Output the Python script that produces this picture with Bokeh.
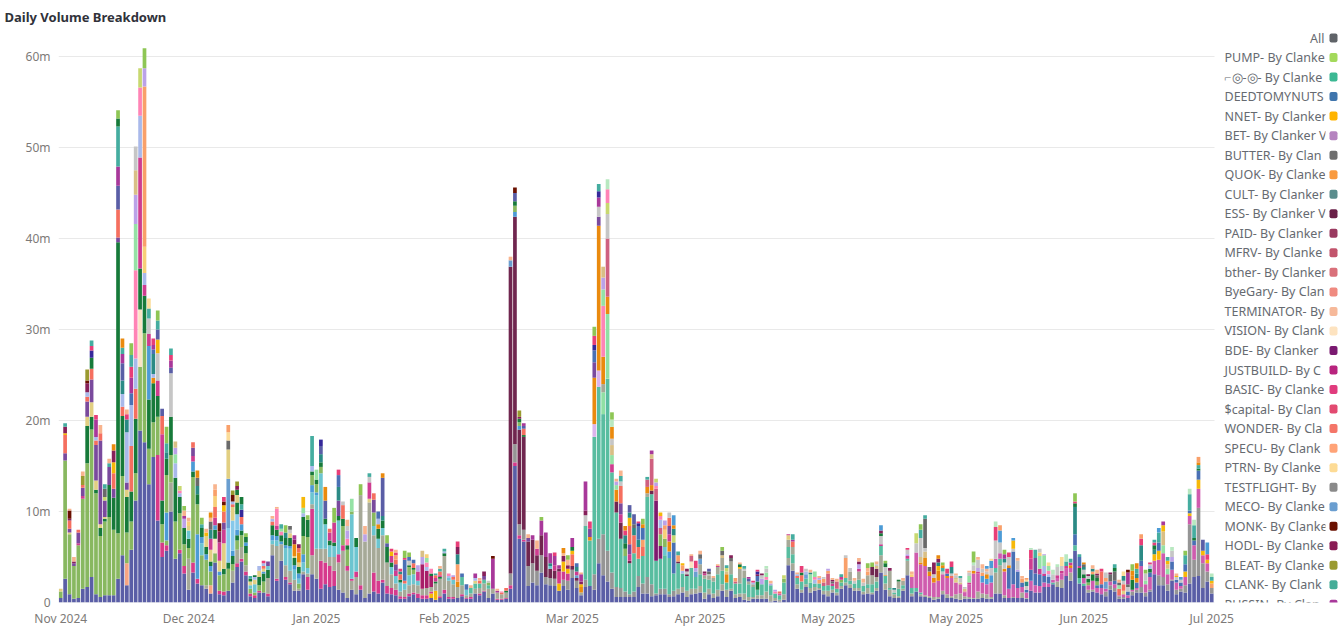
from bokeh.plotting import figure
from bokeh.embed import file_html
from bokeh.resources import INLINE
from bokeh.models import Range1d, FixedTicker, Title
from bokeh.core.properties import value

D = dict
TITLE = "Daily Volume Breakdown"
FONT = "Noto Sans"
Y_TICKS = [0, 10, 20, 30, 40, 50, 60]
Y_LABELS = ["0", "10m", "20m", "30m", "40m", "50m", "60m"]
X_TICKS = [0, 29, 58, 87, 116, 145, 174, 203, 232, 261]
X_LABELS = ["Nov 2024", "Dec 2024", "Jan 2025", "Feb 2025", "Mar 2025", "Apr 2025", "May 2025", "May 2025", "Jun 2025", "Jul 2025"]

LEGEND_NAMES = ["PUMP- By Clanke", "⌐◎-◎- By Clanke", "DEEDTOMYNUTS", "NNET- By Clanker", "BET- By Clanker V", "BUTTER- By Clan",
    "QUOK- By Clanke", "CULT- By Clanker", "ESS- By Clanker V", "PAID- By Clanker", "MFRV- By Clanke", "bther- By Clanker",
    "ByeGary- By Clan", "TERMINATOR- By", "VISION- By Clank", "BDE- By Clanker", "JUSTBUILD- By C", "BASIC- By Clanke",
    "$capital- By Clan", "WONDER- By Cla", "SPECU- By Clank", "PTRN- By Clanke", "TESTFLIGHT- By", "MECO- By Clanke",
    "MONK- By Clanke", "HODL- By Clanke", "BLEAT- By Clanke", "CLANK- By Clank", "RUSSIN- By Clan"]
LEGEND_COLORS = ["#a3d95b", "#3bb893", "#3f75ad", "#ffb400", "#b583bf", "#6f6f6f", "#f99a3e", "#5a8c8c", "#6a2048", "#9a3a60",
    "#c2546c", "#d9707a", "#ef8a80", "#f6b99a", "#fde3c0", "#7a1a70", "#b8237e", "#e03b7d", "#e24a70", "#f47568", "#ffa377",
    "#fddb95", "#8a8a8a", "#6a9ed0", "#6a1000", "#8a1c55", "#9a9a30", "#45ad98", "#a8389a"]

# stack order, bottom to top
SERIES = dict(IND="#5a5ea6", CRML="#d83a88", PCHL="#f6a583", GOLDL="#f6b808", SAGE="#a6a998", CR2="#d63a8c", GREYS="#a6a998", GREY="#959595",
    GRN="#88b860", JUST="#a81e68", TEAL="#58bda0", LAV0="#dcb4ec", MINT0="#90e0a4", SG2="#a6a998", MAGP="#cf5cae", BLU0="#4a70b4",
    BDE="#7e1a6e", VAN="#fbe3c4", ESS="#70264f", DG="#177a3a", CYAN="#6cc5d0", SKY="#4c9bd6", LSKY="#86c8ea", MECO="#6a9ed0",
    GRN2="#88b860", DG2="#177a3a", TAN="#e2cf82", ORNG="#ea8a0e", MFRV="#cf6080", CRIM="#ce3d90", PURP="#7a4a9d", SALM="#f56f5f",
    CORN="#a9b9ea", PINK="#ff84b5", MINT="#95e2a5", PTRN="#f8cf78", SPEC="#f9a06a", LAV="#bba2e8", SAND="#d9bf86", LGRY="#c6c6c6",
    LIME="#c8d870", GOLD="#f6b808", TEALD="#2b8a85", BLUE="#4a70b4", DGRY="#6a6a6a", DG3="#177a3a", IND2="#5a5ea6", TOPM="#86205a",
    PURP2="#a8389a", DRED="#6a1000", OLIVE="#9a9a30", NAVY="#35289a", HOT="#e83e78", TEALT="#45ada0", DG4="#177a3a", PEACH="#f8b48e",
    ORN2="#ea8a0e", PNK2="#ff84b5", MINT2="#b8e8c0", SK2="#4c9bd6", PTR2="#fbdc98", SP2="#f9a06a", GRN3="#8ec655")

NOV_BARS = [
D(IND=.5,GRN=.7,TAN=.3),
D(IND=2.6,GRN=13,GOLD=.2,PURP=.8,SALM=2,TOPM=.7,TEALT=.4),
D(IND=.9,GRN=6.6,PURP=.4,TAN=.2,SALM=.9,TOPM=.2,DRED=.9,PEACH=.2),
D(IND=.4,GRN=3.6,PURP=.3,TOPM=.2,PEACH=.5),
D(IND=.5,GRN=5.8,PURP=1.2,CRIM=.2,SALM=.3),
D(IND=1.5,GRN=9.9,PURP=.9,OLIVE=1,SALM=.3,PEACH=.5,CRIM=.3),
D(IND=1.7,GRN=13.6,DG=4.1,TAN=1,PURP=1.7,SALM=.5,OLIVE=1.2,TOPM=1,DRED=.3,CORN=.5),
D(IND=2.8,GRN=16.2,DG=1.4,TAN=1.6,PURP=2.5,SALM=1.2,DG3=1.2,NAVY=.8,HOT=.5,TEALT=.6),
D(IND=.9,GRN=11.1,DG=.4,TAN=1,PURP=3.9,PURP2=1.9,SALM=.5,CORN=.4,HOT=.5),
D(IND=.6,GRN=6.7,DG=.9,TAN=.4,PURP=9.2,PEACH=.9,SALM=.8),
D(IND=.8,GRN=8.1,DG=.3,TAN=.2,PURP=1.8,DGRY=.9,TEALT=.5,LIME=.4),
D(IND=.8,GRN=8.6,DG=3.5,PURP=2,PEACH=.5,TEALT=.4),
D(IND=.8,GRN=7.2,DG=3.5,PURP=1,SALM=1.7,GOLD=1.2,ORN2=.7,TOPM=1.3),
D(IND=2.6,GRN=5,DG=32,PURP=.5,SALM=3.1,IND2=2.6,PURP2=2.1,TEALT=4.4,DG4=.9,GRN3=.9),
D(IND=5.2,GRN=8.7,DG=6.6,CORN=1.4,SALM=1,TEALD=1.5,IND2=1.9,ORN2=1,PURP2=1,TEALT=.7),
D(IND=1.9,PCHL=2.4,GRN=3.4,DG=3.9,TAN=.8,CORN=5.5,PURP=.8,TEALD=1.4,HOT=.6,PEACH=.5),
D(IND=5.8,GRN=3.1,DG=3.3,SALM=5,CORN=4.5,PURP2=1.7,TEALT=1.3,BLUE=1.3,HOT=1.2,GRN3=1.3),
D(IND=11.2,GRN=3,DG=6,SALM=3.3,CORN=3.3,PINK=9.7,MINT=5.1,LAV=3.2,SAND=2.7,LGRY=2.6),
D(IND=18.9,GRN=7,DG=4.5,VAN=6.3,CRIM=12.2,CORN=4.6,PINK=3.1,LIME=2.1),
D(IND=17.6,GRN=12,DG=4.1,CRIM=1.2,CORN=1.3,PTRN=2.9,SPEC=17.6,LAV=2,GRN3=2.2),
D(IND=13,GRN=3.9,DG=5.4,SKY=5.9,CRIM=1.3,LGRY=1.7,TEALT=1.1,PTR2=1.1),
D(IND=16,GRN=3.8,DG=4.3,CORN=.4,ORNG=.6,TEALD=2.2,BLUE=.5,PURP2=.5,HOT=.7),
D(IND=9,CRML=7.2,GRN=4.2,DG=2.3,CRIM=1.7,LGRY=3,GOLD=1.5,IND2=1.1,TEALT=1,GRN3=1.1),
D(IND=5,CRML=1.6,GRN=2,DG=2.6,CRIM=7.3,SALM=2,IND2=.8),
D(IND=5.7,CRML=.6,GRN=.5,SKY=3.1,GRN2=4.1,DG2=1.8,TEALD=.7,TEALT=1,GRN3=1.8),
D(IND=10,SAGE=3.2,GRN=3,DG=4.2,LGRY=4.8,PURP2=.8,TEALT=.7,IND2=.6,HOT=.6),
D(IND=4.8,GRN=4.1,DG=4.8,CORN=1.6,MINT=1,LAV=.7,SAND=.7),
D(IND=5.4,CRML=.4,GRN=4,DG=1.8,CORN=.4,PINK=.3,LIME=.5),
D(IND=3.2,CRML=.8,GRN=2.4,DG=1.8,PURP2=.3,LAV=1,PEACH=.6,GRN3=.5),
D(IND=1.4,SAGE=3.4,GRN=1.2,DG=1,CYAN=.9,TAN=.5,PTRN=.5,PEACH=.4),
]
DEC_BARS = [
D(IND=3.3,CRML=1.1,GRN=9.4,DG=.6,SKY=1.1,PURP=.9,SALM=.6,CRIM=.6),
D(IND=2.1,CRML=.5,SKY=4.9,GRN2=3.3,DG2=1.1,TEALD=.9,DGRY=.9,ORN2=.8),
D(IND=1.9,GRN=3.3,CYAN=1.3,SKY=.7,DG2=1,TEALT=.4,GRN3=.7),
D(IND=1.5,SAGE=.4,GRN=2.8,SKY=.6,DG2=.8,TAN=1.2,GOLD=.4,PEACH=.4),
D(IND=1,PCHL=.9,GRN=1.5,SKY=.6,DG2=.5,TAN=1.3,CRIM=1.2,TEALD=1,DGRY=.9,ORN2=.6,PEACH=.4),
D(IND=4.4,GRN=1,DG=1,VAN=1.6,SKY=.5,CRIM=.8,SALM=1.2,PTRN=1.2,SPEC=.7,PEACH=.6),
D(IND=.9,CRML=.4,GRN=1.7,SKY=.4,TAN=1.2,CRIM=2,TOPM=1.2,DRED=.9),
D(IND=.8,CRML=.4,GRN=1.9,DG=.6,TAN=2.8,CRIM=1.5,PURP=.8,SALM=1.2,GOLD=.7,DRED=.4,HOT=.5),
D(IND=1.3,GRN=2.4,DG=.7,TAN=3.2,LSKY=3.8,MECO=5.4,DGRY=1,PTR2=.9,SP2=.8),
D(IND=2.2,SAGE=1.3,GRN=.7,DG=.9,TAN=1.5,SKY=.6,LSKY=3.3,SALM=.3,CORN=.3,DRED=.7,OLIVE=.5),
D(IND=3.9,CRML=.4,SAGE=1.5,GRN=1,DG=.6,SKY=.6,LSKY=1.7,DG2=1.3,TAN=.8,OLIVE=.5,DG3=.6,TOPM=.4),
D(IND=4.5,CRML=.3,SAGE=1.3,GRN=1.3,DG=.5,SKY=.7,SALM=.8,NAVY=.8,TEALT=.6,DG4=.8),
D(IND=3,CRML=.4,SAGE=.7,GRN=1.3,DG=.8,SKY=.4,DG3=.6,GRN3=.4),
D(IND=.7,CRML=.3,GRN=.5,CYAN=.4,TAN=.4,DG3=.3,TEALT=.3),
D(IND=.5,CRML=.3,GRN=.3,CYAN=.9,TAN=.5,DG3=.2,CORN=.3),
D(IND=1.1,CRML=.2,GRN=.6,DG=.9,TAN=.7,CORN=.5),
D(IND=1.1,GRN=1.2,DG=.9,SKY=.2,TAN=.3,HOT=.3,CORN=.3,SALM=.3),
D(IND=.7,CRML=.3,SAGE=1.7,DG=.9,CYAN=.4,PURP=.5),
D(IND=5.2,SAGE=1.2,CYAN=.4,SKY=.6,DG2=1.1,SALM=.4,PEACH=.3,CORN=.3),
D(IND=2.4,CRML=.2,SAGE=3.6,CYAN=.6,SKY=.5,DG2=.7,CRIM=.4,PINK=1.9,PEACH=.2),
D(IND=4.6,SAGE=1.8,SKY=.3,DG2=.7,PINK=.4,TEALT=.5,MINT=.3),
D(IND=2.5,CRML=.3,SAGE=1.3,CYAN=1.9,SKY=.3,DG2=.8,TEALD=.6,GRN3=.8),
D(IND=2,CRML=.2,SAGE=1.3,CYAN=2.4,SKY=.3,DG2=.9,TAN=.5,DGRY=.4,LGRY=.4),
D(IND=1.3,SAGE=1.2,CYAN=1.1,SKY=.5,DG2=.8,TAN=.2,ORNG=1.3,PURP2=.5,TOPM=.5),
D(IND=1.3,SAGE=.2,GRN=.6,CYAN=.5,SKY=.6,DG2=.7,TAN=.5,ORNG=1.1,SALM=.5,TOPM=.4),
D(IND=3.1,SAGE=.3,CYAN=1,SKY=.9,GRN2=2,DG2=2.1,CORN=.4,MINT=.6,GOLD=1.2),
D(IND=1.4,CRML=1.4,SAGE=.4,CYAN=.6,GRN2=3.4,DG2=1.9,GRN3=.5),
D(IND=3.1,SAGE=2.1,CR2=5.1,GREY=.5,CYAN=1.3,SKY=.8,GRN2=1.1,DG2=.4,CORN=.6,TEALT=3.3),
]
JAN_BARS = [
D(IND=2.6,SAGE=3.3,CYAN=5.9,SKY=.3,GRN2=.9,DG2=.5,MINT=1.1),
D(IND=1.5,CR2=3.1,GREY=1.3,CYAN=8.3,GRN2=.7,DG2=.5,TEALD=.9,IND2=.9,NAVY=.7),
D(IND=2,CR2=2.4,GREY=1.5,CYAN=2.7,DG2=.6,IND2=2,ORN2=1.5),
D(IND=1.7,CR2=2.3,GREY=1,CYAN=1.3,DG2=.5,CRIM=.9,SALM=.4),
D(IND=1.8,CR2=1.7,GREY=1.5,CYAN=1.2,DG2=.4,CRIM=2.2,GRN3=1.6),
D(IND=1.4,SAGE=3,CR2=.9,CYAN=3.7,DG2=.5,PURP=1.7,TEALD=1.5,BLUE=1.3,HOT=.6),
D(IND=1.1,SAGE=4.6,CR2=.6,GRN2=2.1,DG2=.8,SALM=1.5,LGRY=.4),
D(IND=.5,SAGE=3,CR2=.5,GRN2=1.8,DG2=.5,PINK=.7,LAV=.9,LGRY=.5,PEACH=.7),
D(IND=1.4,SAGE=1,CR2=.2,CYAN=7.1,GRN2=.3,MINT=1.4),
D(IND=.9,SAGE=1.9,CR2=.6,CYAN=2.7,DG2=1),
D(IND=1.4,CR2=.5,GREY=9.9,GRN3=1.2),
D(IND=.5,GREY=6.2,PEACH=.9,LAV=.8),
D(IND=1,SAGE=10,TAN=.4,CRIM=1.8,LGRY=.6,TEALT=.4),
D(IND=1.2,CR2=2.1,GREY=4.1,CYAN=1,GRN2=1.5,PURP=1.4,SALM=.7),
D(IND=1,CR2=1.4,GREY=3.6,CYAN=1,DG2=1.1,ORNG=.5,CORN=.6,BLUE=.8),
D(IND=2.2,CR2=.3,GREY=4.9,CYAN=.8,DG2=.8,IND2=4.2,TEALD=.5,ORN2=.5),
D(IND=1,CR2=.8,GREY=2.6,DG2=1.7,IND2=.4,GRN3=.9),
D(IND=.9,CR2=.7,GREY=1.5,CYAN=.8,DG2=.5,CRIM=.7,GOLD=.5,HOT=.3),
D(IND=.8,CR2=.6,GREY=.7,CYAN=.8,CRIM=.6,PURP=.7,SALM=.5,SPEC=.5,HOT=.3,PEACH=.3),
D(IND=.4,CR2=.3,GREY=.5,CYAN=1,DG2=.3,SALM=.6,TEALD=.3,HOT=.3),
D(IND=.4,CR2=.2,GREY=.8,CYAN=.7,SALM=.3,BLUE=2.3,HOT=.2,GRN3=.8),
D(IND=.7,CR2=.3,GREY=.9,CYAN=1.1,GRN2=.9,DG2=.2,BLUE=.4,LGRY=.5,GRN3=.5),
D(IND=.9,CR2=.2,GREY=.9,CYAN=1.1,GRN2=.5,DG2=.2,SALM=.5,BLUE=.4),
D(IND=.5,CR2=.5,GREY=.9,CYAN=.5,CRIM=1,LAV=.7),
D(IND=.4,CR2=.4,GREY=.7,JUST=2.7,LAV=.8,SAND=.7),
D(IND=.4,CR2=.4,GREY=.8,JUST=1.9,CORN=.4,PINK=.5,PTRN=.4,MINT=.5),
D(IND=.5,CR2=.2,GOLDL=.5,GREY=.5,DG=.3,JUST=1.2,PINK=.5),
D(IND=.3,GOLDL=1,GREY=.8,DG=.2,CRIM=.4,SALM=.3,TEALT=.2),
D(IND=.5,CR2=.2,GREY=1.9,DG=.2,CRIM=.2,SALM=.4,PEACH=.3,TEALT=.3),
]
FEB_BARS = [
D(IND=1,CR2=.4,GREY=3.7,DG=.3,TEALT=.3,CORN=.2),
D(IND=.4,CR2=.2,GREY=1.8,CYAN=.3,CORN=.2,PINK=.3),
D(IND=.4,CR2=.2,GREY=1.4,CYAN=.5,SALM=.3,LAV=.2),
D(IND=.5,SAGE=1.2,ORNG=.6,SPEC=1.9,TEALD=1.1,TOPM=.8,HOT=.6),
D(IND=.7,CR2=.2,GREY=1,TEAL=.9,BLUE=.4),
D(IND=.4,CR2=.1,GREY=.3,CYAN=.6,BLUE=.6),
D(IND=.4,CR2=.2,GREY=.4,TEAL=.6,PEACH=.3),
D(IND=1,GREY=.5,TEAL=.6,PURP2=.5,CORN=.3,TAN=.3),
D(IND=.8,CR2=.2,GREY=.6,TEAL=.5,SALM=.3,PEACH=.3),
D(IND=1.2,CR2=.1,GREY=.8,TEAL=.4,PURP=.4,TOPM=.5),
D(IND=.5,GREY=1,TEAL=.4,GRN2=.3,LGRY=.2),
D(IND=1,GREY=.5,PURP2=3.3,DRED=.3),
D(IND=.3,CR2=.1,GREY=.7,PURP2=.2,PEACH=.2),
D(IND=.3,CR2=.1,GREY=.5,PINK=.1,SALM=.2),
D(IND=.4,CR2=.1,GREY=.6,DG=.2,SALM=.3),
D(IND=1.5,CR2=.4,GREY=1.3,ESS=33.7,MECO=.7,PEACH=.4),
D(IND=15,CR2=.4,GREY=2,ESS=25,SKY=.5,GRN2=.7,DG2=.5,IND2=.9,DRED=.6),
D(IND=7,CR2=.4,GREY=1.2,ESS=10.4,SKY=.4,GRN2=.4,DG2=.4,OLIVE=.7,TOPM=.2),
D(IND=6.7,CR2=.2,GREY=1.1,ESS=10.2,DG2=.2,SALM=.7,IND2=.3,PURP2=.3),
D(IND=1.8,GREY=2.2,ESS=2.7,PURP=.4,PEACH=.4),
D(IND=2.2,GREY=2.1,ESS=2.6,PURP2=.5),
D(IND=1.9,GREY=1.6,ESS=1.7,CRIM=.7,PEACH=.9),
D(IND=3.3,GREY=1.9,ESS=2.2,PURP2=1.6,GRN3=.4),
D(IND=2,GREY=.8,ESS=2.2,PURP2=2.7),
D(IND=1.9,GREY=.8,ESS=1,PURP2=1.1,CYAN=.3,TEALD=.3),
D(IND=1.8,GREY=.8,ESS=.9,CRIM=.6,PURP2=1,HOT=.4),
D(IND=1.3,CR2=1.3,GOLDL=.8,ESS=.3,PURP2=.4),
D(IND=1.8,GREY=.7,CRIM=.9,GOLD=1.1,TOPM=.6,ORN2=.6,PEACH=.3),
D(IND=1.4,GREY=1,CRIM=.8,GOLD=.5,TOPM=.4,GRN3=.5,PEACH=.6),
]
MAR_BARS = [
D(IND=2.7,GREY=.9,ESS=.4,SALM=1.3,GOLD=.4,PURP2=1,DG3=.4),
D(IND=1.6,GREY=.8,ESS=.3,MECO=.3,CRIM=.4,TEALD=.5,BLUE=.4),
D(IND=.8,SAGE=.3,ORNG=.6,PURP2=.8,TOPM=.3,GOLD=.3,PEACH=.2),
D(IND=1.7,GREY=.8,TEAL=5.9,LGRY=1.2,TOPM=.5,PURP2=3.2),
D(IND=1.8,TEAL=5,ORNG=.4,PURP=.9,HOT=.8),
D(IND=1.4,GREY=1.7,TEAL=15.1,LAV0=1.4,ORNG=5.1,PURP=1.7,BLUE=1.3,HOT=1,GRN3=1,NAVY=.6),
D(IND=4.3,GREY=2.7,TEAL=16.7,LAV0=1.8,ORNG=15.9,PURP=1,LGRY=1.1,PURP2=1,TEALT=.8,NAVY=.7),
D(IND=3,GREY=4.5,TEAL=13.2,SG2=.9,MINT0=2.4,ORNG=3,PINK=5.6,MINT=1.8,LAV=1.3,SAND=1.2),
D(IND=2.3,GREY=3.4,TEAL=18.9,MINT0=7.1,ORNG=1.9,MFRV=6.4,LGRY=2.7,PNK2=1.5,LIME=1.2,MINT2=1.1),
D(IND=1.5,GREY=1.8,TEAL=11,CRIM=.9,MINT=1,SAND=1.1,LGRY=.7,ORN2=1.3,GRN3=.8,MINT2=.8),
D(IND=.6,GREY=1.1,TEAL=8.2,ESS=1.2,ORNG=1.3,MINT=.5,PEACH=.3,LAV=.4),
D(IND=.6,GREY=1,TEAL=5.4,ESS=1.8,CRIM=.9,PURP=1.2,SALM=1.9,LGRY=.5,TEALT=.6,PEACH=.6),
D(IND=.6,GREY=.6,TEAL=3.9,GRN2=.8,DG2=.6,TEALD=.9,ORN2=.5,HOT=.5),
D(IND=.6,GREY=.3,TEAL=3.4,ESS=.3,CRIM=.7,PURP=1.1,SALM=2,GOLD=.9,TEALD=.6,IND2=.8),
D(IND=.6,GREY=.6,TEAL=4.2,SALM=2,TEALD=.8,IND2=1.1,DGRY=.4),
D(IND=1.7,GREY=1.2,TEAL=1.9,SALM=1.3,TEALD=.8,BLUE=1.5,NAVY=.3,HOT=.2),
D(IND=1,GREY=1.1,TEAL=3,SALM=1,SPEC=.8,BLUE=1.3,ORN2=.4,GRN3=.6),
D(IND=1,GREY=1.8,TEAL=8.8,SG2=.4,ORNG=.7,MFRV=.8,TEALT=.3),
D(IND=.7,GREY=1.3,TEAL=9.9,ESS=.4,ORNG=.6,MFRV=2.9,SAND=.5,PURP2=.4),
D(IND=.8,GREY=.2,TEAL=3.6,BDE=6.6,MFRV=1.3,PINK=.3,LAV=.4,LIME=.4),
D(IND=.9,GREY=.6,TEAL=3.3,BDE=1.4,GRN2=1.3,MFRV=.7,CORN=.9,PINK=.4,GOLD=.4),
D(IND=.9,GREY=.6,TEAL=3.7,CYAN=.9,GRN2=.9,PTRN=1,SPEC=.5,LAV=.5),
D(IND=.6,GREY=.3,TEAL=4,SKY=.7,ORNG=1.1,CRIM=.8,PURP=.9,SALM=.9,LGRY=.6),
D(IND=.7,GREY=.6,TEAL=1.9,BLU0=3.4,LIME=.8,TEALD=.7,ORN2=.4,SK2=1.1),
D(IND=.9,GREY=.6,TEAL=2.8,ESS=.2,SPEC=.7,TEALT=.4),
D(IND=1.1,GREY=.6,TEAL=1.5,SPEC=.6,GOLD=.2,CORN=.3),
D(IND=.6,GREY=.7,TEAL=1.6,ESS=.2,LGRY=.3,TOPM=.3),
D(IND=.9,GREY=.6,TEAL=2.3,VAN=.7,MFRV=.6,PEACH=.2),
D(IND=1,GREY=.5,TEAL=1.3,MECO=.6,HOT=.8,LAV=.4),
]
APR_BARS = [
D(IND=1.1,GREY=.7,TEAL=1.3,SG2=1.1,MECO=.6,DGRY=.5,PEACH=.4),
D(IND=.4,GREY=.7,TEAL=1.5,SG2=.4,CRIM=.2,TOPM=.2),
D(IND=.9,GREY=.6,TEAL=1,SG2=.5,DGRY=.3,IND2=.3,LGRY=.1),
D(IND=.5,GREY=.5,TEAL=1.3,SG2=.4,PEACH=.2),
D(IND=.7,GREY=.7,TEAL=1.7,SG2=.8,CRIM=.1,PEACH=.2),
D(IND=1.3,GREY=.7,TEAL=1.5,SG2=1.4,DGRY=.5,SAND=.3,GRN3=.4),
D(IND=.6,GREY=.8,TEAL=.8,ORNG=.9,TEALT=.3,LIME=.4,SAND=.3),
D(IND=1.3,GREY=.2,TEAL=1.6,SG2=1.4,TOPM=.3,DGRY=.4),
D(IND=.5,GREY=.4,TEAL=1.2,MFRV=.2,SPEC=.4),
D(IND=.6,GREY=.4,TEAL=1.1,SG2=1.6,DG3=.3,GOLD=.2,PEACH=.2),
D(IND=.3,GREY=.7,TEAL=1.7,SG2=.8,TEALT=.3,LGRY=.2),
D(IND=.2,GREY=.4,TEAL=1.4,SG2=.3,IND2=.3,PURP2=.2),
D(IND=.4,GREY=.2,TEAL=1.1,SG2=.3,HOT=.2,CORN=.2),
D(IND=.4,GREY=.4,TEAL=.6,DG2=.9,TOPM=.2,BLUE=.6,NAVY=.3,HOT=.2),
D(IND=.4,GREY=.4,TEAL=1.2,LAV=.6,LGRY=.4,TOPM=.2),
D(IND=.4,GREY=.8,TEAL=1.3,PINK=.3,MINT=.5,LGRY=.4,MINT2=.3),
D(IND=.1,GREY=.7,TEAL=1.1,LAV=.2,PEACH=.3),
D(IND=.2,GREY=.3,TEAL=.5,PINK=.2,LAV=.2),
D(IND=.1,GREY=.2,TEAL=.5,SALM=.2,MAGP=.2),
D(IND=.3,GREY=.6,TEAL=1.3,GRN2=.4,LIME=.4),
D(IND=4.1,GREY=.8,TEAL=1.2,SG2=.8,CRIM=.1,TAN=.5),
D(IND=3.5,GREY=.8,TEAL=1,SG2=.8,SALM=.6,TEALT=.6,PURP2=.2),
D(IND=1.5,GREY=.5,TEAL=.7,SALM=.2,CORN=.2,PEACH=.2),
D(IND=1.1,GREY=.3,TEAL=.9,SALM=.7,HOT=.7,DG3=.3),
D(IND=1.7,GREY=.3,TEAL=.6,MECO=.5,CORN=.3,LGRY=.3),
D(IND=1.1,GREY=.5,TEAL=.6,TEALD=.2,MINT=.9,PEACH=.3),
D(IND=1.3,GREY=.4,TEAL=.4,CORN=.4,PINK=.3,MINT=.6),
D(IND=1.4,GREY=.2,TEAL=.5,SPEC=.4,LAV=.2,PEACH=.2),
D(IND=.9,GREY=.4,TEAL=.5,MFRV=.4,SPEC=.4,LGRY=.2),
]
MAY_A_BARS = [
D(IND=.7,GREY=.6,TEAL=.6,MFRV=1.3,SPEC=.3,LAV=.2),
D(IND=1.1,GREY=.3,TEAL=.4,CRIM=.3,DGRY=.2,TOPM=.2,PEACH=.2),
D(IND=.8,GREY=.3,TEAL=.4,MFRV=.8,PEACH=.3),
D(IND=1.5,GREY=.3,TEAL=.4,GRN2=.3,CRIM=.3,TEALT=.3),
D(IND=1.9,GREY=.3,TEAL=.5,SPEC=2.2,LGRY=.3),
D(IND=1.6,GREY=.4,TEAL=.4,SG2=1,LGRY=.4),
D(IND=1.3,GREY=.3,TEAL=.5,LGRY=.3,PEACH=.3),
D(IND=1.3,GREY=.3,TEAL=.9,SG2=.9,CRIM=.3,TOPM=.3,LAV=.5,PEACH=.4),
D(IND=.9,GREY=.3,TEAL=.6,LGRY=.4,PEACH=.4),
D(IND=1,GREY=.6,TEAL=.4,SG2=1,SPEC=.4,GRN3=.5,PEACH=.4),
D(IND=.9,GREY=.2,TEAL=.9,SG2=1,ESS=.9,GRN3=.5),
D(IND=1.3,GREY=.3,TEAL=.7,SG2=.5,ESS=.9,SAND=.3,LGRY=.2,PEACH=.3),
D(IND=3.3,GREY=1.9,TEAL=1,CRIM=.2,LGRY=.9,DG3=.3,TOPM=.3,SK2=.6),
D(IND=1.4,GREY=.7,TEAL=.8,ORNG=.1,LGRY=.9,DG3=.4,GRN3=.3),
D(IND=.7,GREY=.7,TEAL=.2,SG2=1.9,TOPM=.3),
D(IND=.5,GREY=.4,TEAL=.2,TEALD=.2,LGRY=.3),
D(IND=.5,GREY=.2,TEAL=.8,SG2=.8,DG3=.2),
D(IND=1.3,GREY=.2,TEAL=.4,SG2=.5,PEACH=.3),
D(IND=3,GREY=1.6,TEAL=.2,CRIM=.3,LGRY=.5,HOT=.2,LAV=.2),
D(IND=.7,GREY=.3,TEAL=.6,MAGP=1.2,PTRN=.3,PEACH=.3),
D(IND=1.2,TEAL=.4,MAGP=3.9,LGRY=1,LIME=1.1),
D(IND=.7,GREY=.2,TEAL=.2,MAGP=3.1,ORNG=.2,SAND=.6,LGRY=2.1,TEALT=.9,GRN3=.6),
D(IND=.6,GREY=.2,MAGP=3.2,ORNG=.9,SAND=.7,LGRY=.4,DGRY=3.2,TEALT=.4),
D(IND=.5,MAGP=2.2,ORNG=.5,DGRY=.5,GREY=.2),
D(IND=.3,GREY=.3,MAGP=1.6,ORNG=.5,LGRY=.4,TOPM=1.3),
D(IND=.4,GREY=.2,MAGP=1.8,ORNG=1.1,GOLD=.5,TEALD=.4,TOPM=.4,ORN2=.4),
D(IND=.9,GREY=.4,MAGP=1.8,LGRY=.3,ORN2=.3,TEALT=.4,GRN3=.3),
D(IND=.5,GREY=.4,MAGP=1.8,ORNG=.2,BLUE=.3,HOT=.5),
D(IND=.5,GREY=.2,MAGP=2,LGRY=.3,TEALD=.7,HOT=.6,SALM=.2),
]
MAY_B_BARS = [
D(IND=.4,GREY=.5,MAGP=1.3,LGRY=.3,SAND=.2,TAN=.3,PEACH=.2),
D(IND=.3,GREY=.7,MAGP=1,LGRY=.5,SAND=.2,TEALT=.2),
D(IND=.4,GREY=.3,MAGP=.4,CRIM=.1,SAND=.3,LGRY=.2),
D(IND=.4,GREY=.2,MAGP=1.4,CRIM=.2,MINT=.7,LGRY=.4,PEACH=.2),
D(IND=.4,GREY=.1,MAGP=2.7,ORNG=.3,LGRY=.6,GRN3=1.2,MINT2=.3),
D(IND=.4,GREY=.8,MAGP=2,CRIM=.2,LAV=.4,LGRY=.9,PEACH=.3),
D(IND=.5,GREY=.5,MAGP=1.2,SKY=.7,SPEC=.4,LGRY=.4,PEACH=.5),
D(IND=.4,GREY=.5,MAGP=1.1,SKY=.6,ORNG=.5,LGRY=.3,SK2=.3,PEACH=.3),
D(IND=.4,GREY=.2,MAGP=1.6,SKY=.8,LGRY=.8,SK2=.8,PTR2=.2),
D(IND=1,GREY=2.3,TEAL=.5,MAGP=1,LGRY=2,HOT=1.5,MINT2=.6),
D(IND=1,GREY=3.1,TEAL=.7,MAGP=.6,LGRY=1.2,SK2=1.3,SP2=.6),
D(IND=.5,GREY=.3,MAGP=2.6,ORNG=.3,LGRY=.7,TEALD=.4,PURP2=.5,GRN3=.5),
D(IND=.5,MAGP=1,BLU0=2.3,ORNG=.3,LGRY=.9,HOT=.5),
D(IND=.5,GREY=.1,MAGP=1.4,BLU0=3.6,GOLD=.9,LGRY=.3,SK2=.3),
D(IND=.5,MAGP=1.1,BLU0=1.8,LGRY=1,LAV=.2,PEACH=.3),
D(IND=.5,GREY=.6,MAGP=.6,BLU0=.5,SPEC=.4,PEACH=.3),
D(IND=.4,GREY=.1,MAGP=.6,BLU0=.3,LGRY=.4,TEALD=.5,PTR2=.2,SP2=.2),
D(IND=1.3,MAGP=1.1,BLU0=1.2,CRIM=1.2,HOT=1,MINT2=.2),
D(IND=1.1,MAGP=.8,BLU0=1.3,PURP=1.7,TEALT=.9),
D(IND=1.1,MAGP=.7,BLU0=1.3,CRIM=.6,MINT=1.4,PTRN=.4,LGRY=.4),
D(IND=1.7,MAGP=.5,BLU0=.7,CRIM=.3,CORN=.8,MINT=1.2,LAV=.1),
D(IND=1.7,MAGP=.4,BLU0=.7,CORN=.3,PINK=.4,MINT=.5,PTR2=.4),
D(IND=2,TEAL=.2,MAGP=.3,LGRY=.6,MINT2=.5),
D(IND=1.7,GREY=.6,MAGP=.4,CRIM=.3,LGRY=.9,MINT2=.3),
D(IND=1.6,GREY=.9,MAGP=.7,CRIM=.3,LGRY=.5,PTR2=1),
D(IND=2.9,MAGP=.8,CRIM=.3,TEALT=.5,MINT2=.8),
D(IND=2.4,GREY=.9,MAGP=.5,ORNG=.3,CRIM=.3,TEALT=.4),
D(IND=5.7,TEAL=.6,BLU0=1.2,HOT=.2,TEALD=3,DG3=.4,GRN3=.9),
D(IND=2.1,TEAL=.6,DG2=1.1,CRIM=.2,BLUE=1,TEALT=.3),
]
JUN_BARS = [
D(IND=1.8,TEAL=.3,MAGP=.6,DG2=.4,LGRY=.5,TEALD=.3,DGRY=.3,ORN2=.2),
D(IND=1.1,GREY=.3,MAGP=.5,GRN2=.3,DG2=.4,TOPM=.2,LGRY=.3),
D(IND=1.2,GREY=.2,MAGP=1,DG2=.7,TEALD=.3,SPEC=.3,PEACH=.4),
D(IND=1.1,MAGP=.5,BLU0=.3,GRN2=.4,DG2=.4,DGRY=.3,TOPM=.2,PEACH=.4),
D(IND=.9,MAGP=.7,BLU0=.4,SALM=1.4,HOT=.3),
D(IND=.7,GREY=.5,MAGP=.3,MECO=.8,LGRY=.6,SPEC=.4),
D(IND=1.4,GREY=.5,MAGP=.4,DGRY=.8,TOPM=.2),
D(IND=1.2,GREY=.4,MAGP=.4,BLU0=.4,DGRY=1,DG3=.4,TEALT=.4),
D(IND=.4,GREY=.3,MAGP=.1,SALM=.7,MINT=.4,DGRY=.3,PEACH=.3),
D(IND=.4,GREY=.2,MAGP=.3,TAN=.4,SALM=.7,LGRY=.4,TEALD=.5,PTR2=.5),
D(IND=.5,MAGP=.3,BLU0=.4,LGRY=.5,DGRY=.3,PURP2=1.3,DRED=.3),
D(IND=.8,GREY=.4,MAGP=.2,DG2=1.1,ORNG=.5,GRN3=.7,ORN2=.5),
D(IND=1.1,GREY=.3,MAGP=.2,BLU0=.6,ORNG=.5,TEALD=.5,ORN2=.6,TEALT=.5),
D(IND=1.1,GREY=.6,MAGP=2.3,BLU0=.6,TEALD=1.7,HOT=.7,SP2=.5),
D(IND=.7,GREY=.4,MAGP=.9,MINT=.4,LGRY=.8,GRN3=.4),
D(IND=1.2,GREY=.2,MAGP=1.4,BLU0=.5,DG2=.4,CORN=.3,LGRY=.2,HOT=.2),
D(IND=3.1,MAGP=1.5,GOLD=.7,TEALD=.5,DG3=.5,HOT=.3,TEALT=.3),
D(IND=1.9,GREY=1.1,MAGP=1.7,GOLD=1,BLUE=.9,TEALT=1.1,SK2=.5),
D(IND=1.9,GREY=.9,MAGP=2.6,MINT=.9,SAND=1.5,GOLD=.7,PURP2=.4),
D(IND=1.3,GREY=.7,MAGP=1.1,MINT=.6,SAND=.5,GOLD=.4,TEALT=.4),
D(IND=2.4,GREY=.1,MAGP=1.1,BLU0=.9,LAV=.5,LGRY=.7,MINT2=.4),
D(IND=.9,GREY=.5,MAGP=.8,BLU0=.3,GOLD=.1,LGRY=.3,PEACH=.3),
D(IND=1.2,GREY=.3,MAGP=.3,BLU0=.4,LGRY=.3,SK2=.3),
D(IND=1.1,GREY=.8,MAGP=.9,GOLD=.6,BLUE=.8,TEALT=1,GRN3=.5),
D(IND=2.1,GREY=6.5,MAGP=.9,GOLD=.3,BLUE=.3,TEALT=1.8,MINT2=.6),
D(IND=2.8,GREY=1.9,MAGP=1.6,BLUE=.5,DG3=.3,TEALT=1.4,MINT2=.6),
D(IND=2.9,GREY=7.5,MAGP=2.1,GOLD=1,BLUE=1,DG3=.2,TEALT=.4,ORN2=.3,SP2=.6),
D(IND=1.6,GREY=2.7,MAGP=.9,GOLD=.5,IND2=1.2),
D(IND=2.3,GREY=1.1,MAGP=.9,GOLD=.4,SK2=1.3,HOT=.6),
]
JUL_BARS = [
D(IND=1,GREY=.6,SPEC=.5,GOLD=.3,TEALT=.4,MINT2=.4),
]

PITCH = 4.41
TOP_PX = 26
PX_PER_M = 9.1
BASE_PY = 602
LEFT_PX = 58
GRID_RIGHT_PX = 1214
FRAME_RIGHT_PX = 1338
FRAME_H = BASE_PY - TOP_PX

def lx(px):
    return (px - LEFT_PX) / PITCH - 0.5

def ly(py):
    return (BASE_PY - py) / PX_PER_M

bars = NOV_BARS + DEC_BARS + JAN_BARS + FEB_BARS + MAR_BARS + APR_BARS + MAY_A_BARS + MAY_B_BARS + JUN_BARS + JUL_BARS

p = figure(frame_width=FRAME_RIGHT_PX - LEFT_PX, frame_height=FRAME_H, output_backend="svg", toolbar_location=None,
           x_range=Range1d(lx(LEFT_PX), lx(FRAME_RIGHT_PX)), y_range=Range1d(0, FRAME_H / PX_PER_M),
           min_border_left=LEFT_PX, min_border_right=0, min_border_top=TOP_PX, min_border_bottom=26)
p.add_layout(Title(text=TITLE, align="left", offset=-54, standoff=2, text_font=FONT, text_font_size="13px",
                   text_font_style="bold", text_color="#30323a"), "above")
p.outline_line_color = None
p.background_fill_color = "white"
p.grid.visible = False

for ax, ticks, labels in ((p.xaxis[0], X_TICKS, X_LABELS), (p.yaxis[0], Y_TICKS, Y_LABELS)):
    ax.ticker = FixedTicker(ticks=ticks)
    ax.major_label_overrides = {t: s for t, s in zip(ticks, labels)}
    ax.axis_line_color = None
    ax.major_tick_line_color = None
    ax.minor_tick_line_color = None
    ax.major_tick_out = 0
    ax.major_tick_in = 0
    ax.major_label_text_font = FONT
    ax.major_label_text_font_size = "12px"
    ax.major_label_text_color = "#7d7a78"
p.yaxis[0].major_label_standoff = 8
p.xaxis[0].major_label_standoff = 7

p.segment(x0=[lx(LEFT_PX)] * len(Y_TICKS), x1=[lx(GRID_RIGHT_PX)] * len(Y_TICKS), y0=Y_TICKS, y1=Y_TICKS,
          line_color="#e9e9e9", line_width=1)

# the lower greys of Jan-Feb and Apr-May read as a warmer sage than those of Mar and June
for i, b in enumerate(bars):
    if "GREY" in b and (i < 102 or 140 <= i <= 235):
        b["GREYS"] = b.pop("GREY")

base = [0.0] * len(bars)
for name, color in SERIES.items():
    xs, bot, top = [], [], []
    for i, b in enumerate(bars):
        v = b.get(name, 0)
        if v:
            xs.append(i)
            bot.append(base[i])
            top.append(base[i] + v)
            base[i] += v
    if xs:
        p.vbar(x=xs, bottom=bot, top=top, width=0.84, fill_color=color, line_color=None)

rows = [37.5 + 19.53 * (i + 1) for i in range(len(LEGEND_NAMES))]
p.text(x=[lx(1224)] * len(rows), y=[ly(r) for r in rows], text=LEGEND_NAMES, text_font=value(FONT), text_font_size="12.5px",
       text_color="#666a70", text_baseline="middle", text_align="left")
p.text(x=[lx(1324)], y=[ly(37.5)], text=["All"], text_font=value(FONT), text_font_size="12.5px",
       text_color="#666a70", text_baseline="middle", text_align="right")
all_rows = [37.5] + rows
p.quad(left=[lx(1325)], right=[lx(1329)], top=[ly(TOP_PX)], bottom=[ly(BASE_PY)], fill_color="white", line_color=None)
p.quad(left=[lx(1329)] * len(all_rows), right=[lx(1337)] * len(all_rows), top=[ly(r - 4.5) for r in all_rows],
       bottom=[ly(r + 4.5) for r in all_rows], fill_color=["#5f6368"] + LEGEND_COLORS, line_color=None, border_radius=2)

open("out.html", "w").write(file_html(p, INLINE))
